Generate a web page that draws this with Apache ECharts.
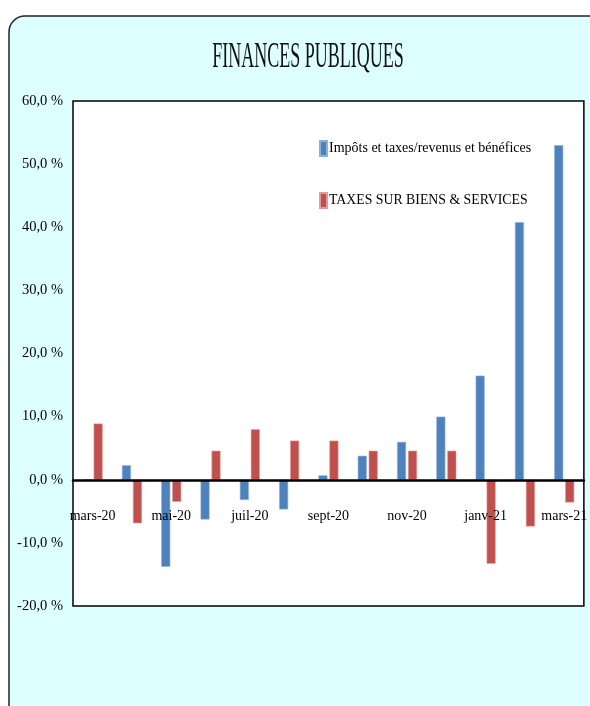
<!DOCTYPE html>
<html>
<head>
<meta charset="utf-8">
<script src="https://cdn.jsdelivr.net/npm/echarts@6/dist/echarts.min.js"></script>
<style>html,body{margin:0;padding:0;background:#fff;}#c{width:590px;height:706px;}</style>
</head>
<body>
<div id="c"></div>
<script>
var categories = ['mars-20','avr-20','mai-20','juin-20','juil-20','août-20','sept-20','oct-20','nov-20','déc-20','janv-21','févr-21','mars-21'];
var impots = [0, 2.3, -13.8, -6.3, -3.2, -4.7, 0.7, 3.8, 6.0, 10.0, 16.5, 40.8, 53.0];
var taxesBiens = [8.9, -6.9, -3.5, 4.6, 8.0, 6.2, 6.2, 4.6, 4.6, 4.6, -13.3, -7.4, -3.6];
var seriesNames = ['Impôts et taxes/revenus et bénéfices', 'TAXES SUR BIENS & SERVICES'];
var titleText = 'FINANCES PUBLIQUES';
var yMin = -20, yMax = 60, yStep = 10;

var FONT = 'Liberation Serif';
var gridTop = 101, gridBottom = 100, H = 706;
var plotH = H - gridTop - gridBottom;
// place the category axis (line + labels) on the zero line
var zeroOffset = -plotH * (0 - yMin) / (yMax - yMin);

var chart = echarts.init(document.getElementById('c'), null, {renderer: 'canvas'});
chart.setOption({
  backgroundColor: '#ffffff',
  animation: false,
  graphic: [
    {type: 'rect', z: -100, shape: {x: 9, y: 16, width: 700, height: 800, r: 16},
     style: {fill: '#ddffff', stroke: '#222', lineWidth: 1.5}},
    {type: 'text', z: 100, x: 308, y: 58, scaleX: 0.5, originX: 0, originY: 0,
     style: {text: titleText, font: '36px "Liberation Serif"', fill: '#111', textAlign: 'center', textVerticalAlign: 'middle'}}
  ],
  legend: {
    orient: 'vertical', left: 314, top: 135, itemWidth: 7, itemHeight: 15, itemGap: 35,
    icon: 'rect',
    textStyle: {fontFamily: FONT, fontSize: 14, color: '#000', padding: [0,0,0,-3]},
    data: [{name: seriesNames[0]}, {name: seriesNames[1], textStyle: {fontSize: 13.8}}]
  },
  grid: {left: 73, right: 2, top: gridTop, bottom: gridBottom, show: true, backgroundColor: '#fff', borderColor: '#000', borderWidth: 1.5},
  xAxis: {
    type: 'category', data: categories, offset: zeroOffset, z: 10,
    axisLine: {onZero: false, lineStyle: {color: '#000', width: 2.5}},
    axisTick: {show: false},
    axisLabel: {interval: 1, margin: 30, fontFamily: FONT, fontSize: 14, color: '#000'}
  },
  yAxis: {
    type: 'value', min: yMin, max: yMax, interval: yStep,
    axisLine: {show: false}, axisTick: {show: false}, splitLine: {show: false},
    axisLabel: {margin: 10, fontFamily: FONT, fontSize: 14.5, color: '#000',
      formatter: function (v) { return v.toFixed(1).replace('.', ',') + ' %'; }}
  },
  series: [
    {name: seriesNames[0], type: 'bar', data: impots, barWidth: 9, barGap: '22%',
     itemStyle: {color: '#4f81bd', borderColor: '#8db1dc', borderWidth: 0.6}},
    {name: seriesNames[1], type: 'bar', data: taxesBiens, barWidth: 9, barGap: '22%',
     itemStyle: {color: '#c0504d', borderColor: '#e09a98', borderWidth: 0.6}}
  ]
});
</script>
</body>
</html>
